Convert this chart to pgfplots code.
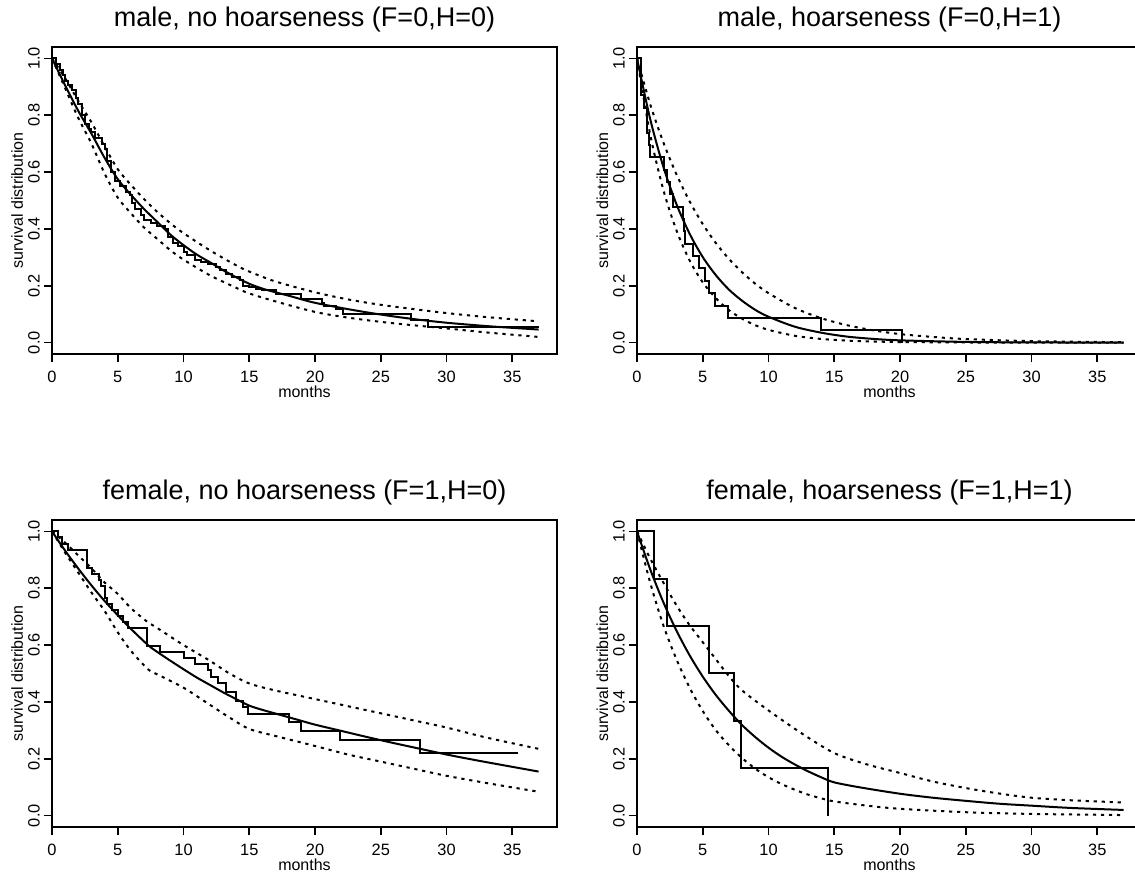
\documentclass[border=0pt]{standalone}
\usepackage{fontspec}
\setmainfont{Liberation Sans}
\usepackage{pgfplots}
\pgfplotsset{compat=1.18}
\pgfplotsset{
  surv/.style={
    scale only axis, width=252.5pt, height=153.5pt,
    xmin=0, xmax=38.4, ymin=-0.04, ymax=1.04,
    xtick={0,5,10,15,20,25,30,35},
    ytick={0,0.2,0.4,0.6,0.8,1},
    axis line style={line width=1pt},
    tick align=outside, xtick pos=bottom, ytick pos=left,
    major tick length=4.2pt,
    tick style={line width=0.8pt, black},
    /pgf/number format/assume math mode=true,
    ticklabel style={font=\fontsize{8.2}{9}\selectfont},
    xticklabel style={anchor=north, inner sep=0pt, yshift=-4pt},
    yticklabel style={rotate=90, anchor=base, inner sep=0pt, yshift=2pt,
      /pgf/number format/.cd, fixed, fixed zerofill, precision=1, /tikz/.cd},
    xlabel={months}, ylabel={survival distribution},
    label style={font=\fontsize{8}{9}\selectfont},
    xlabel style={at={(rel axis cs:0.5,0)}, anchor=base, yshift=-22pt},
    ylabel style={at={(rel axis cs:0,0.5)}, anchor=base, yshift=14.5pt},
    title style={font=\fontsize{13.5}{15}\selectfont, at={(rel axis cs:0.5,1)}, anchor=base, yshift=4pt},
    clip=false,
  },
  km/.style={black, const plot, line width=1pt},
  fit/.style={black, smooth, line width=1pt},
  band/.style={black, smooth, line width=1pt, dash pattern=on 1.6pt off 2.4pt},
}
\begin{document}
\begin{tikzpicture}
\useasboundingbox (0,0) rectangle (567.5pt,436pt);
\clip (0,0) rectangle (567.5pt,436pt);

% male, no hoarseness
\begin{axis}[surv, at={(26pt,259pt)}, anchor=south west,
  title={male, no hoarseness (F=0,H=0)}]
\addplot[band] coordinates {(0,1) (1,0.93) (2,0.85) (3,0.775) (4,0.69) (5,0.61) (6,0.555) (7,0.505) (8,0.46) (9,0.42) (10,0.385) (12,0.325) (14,0.272) (15,0.25) (17,0.215) (20,0.177) (22.5,0.152) (25,0.133) (27.5,0.118) (30,0.104) (33,0.09) (37,0.075)};
\addplot[band] coordinates {(0,1) (1,0.895) (2,0.79) (3,0.70) (4,0.595) (5,0.51) (6,0.455) (7,0.405) (8,0.365) (9,0.325) (10,0.292) (12,0.237) (14,0.193) (15,0.173) (17,0.145) (20,0.108) (22.5,0.088) (25,0.073) (27.5,0.061) (30,0.05) (33,0.036) (37,0.02)};
\addplot[fit] coordinates {(0,1) (1,0.905) (2,0.815) (3,0.735) (4,0.65) (5,0.575) (6,0.52) (7,0.47) (8,0.425) (9,0.38) (10,0.343) (11,0.31) (12,0.283) (13,0.255) (14,0.23) (15,0.207) (16,0.19) (17,0.177) (18,0.165) (19,0.152) (20,0.14) (22,0.122) (24,0.106) (26,0.092) (28,0.08) (30,0.07) (32,0.062) (34,0.055) (36,0.049) (37,0.046)};
\addplot[km] coordinates {(0,1) (0.3,0.98) (0.6,0.96) (0.8,0.94) (1.0,0.92) (1.2,0.905) (1.5,0.89) (1.8,0.86) (2.0,0.84) (2.3,0.80) (2.5,0.77) (2.8,0.75) (3.0,0.74) (3.3,0.72) (3.8,0.70) (4.0,0.68) (4.2,0.64) (4.5,0.60) (4.8,0.57) (5.2,0.55) (5.6,0.53) (5.9,0.52) (6.1,0.49) (6.3,0.47) (6.8,0.45) (7.0,0.43) (7.5,0.42) (8.0,0.41) (8.6,0.40) (8.8,0.37) (9.2,0.35) (9.6,0.34) (10.0,0.32) (10.3,0.31) (10.9,0.29) (11.3,0.285) (11.9,0.275) (12.5,0.265) (12.8,0.255) (13.2,0.24) (13.7,0.23) (14.3,0.22) (14.5,0.20) (15.0,0.195) (15.5,0.19) (16.0,0.185) (17.0,0.17) (18.9,0.155) (20.5,0.14) (20.7,0.13) (21.6,0.12) (22.1,0.10) (27.3,0.08) (28.6,0.055) (37.0,0.055)};
\end{axis}

% male, hoarseness
\begin{axis}[surv, at={(318.5pt,259pt)}, anchor=south west,
  title={male, hoarseness (F=0,H=1)}]
\addplot[band] coordinates {(0,1) (1,0.839) (2,0.705) (3,0.592) (4,0.497) (5,0.417) (6,0.350) (7,0.294) (8,0.247) (9,0.207) (10,0.174) (12,0.122) (14,0.086) (16,0.061) (18,0.043) (20,0.030) (22.5,0.02) (25,0.0126) (30,0.0052) (37,0.0015)};
\addplot[band] coordinates {(0,1) (1,0.733) (2,0.538) (3,0.395) (4,0.289) (5,0.212) (6,0.156) (7,0.114) (8,0.084) (9,0.061) (10,0.045) (12,0.024) (14,0.013) (16,0.007) (18,0.004) (20,0.002) (25,0.0005) (30,0) (37,0)};
\addplot[fit] coordinates {(0,1) (1,0.787) (2,0.619) (3,0.487) (4,0.383) (5,0.301) (6,0.237) (7,0.186) (8,0.147) (9,0.115) (10,0.091) (12,0.056) (14,0.035) (16,0.021) (18,0.013) (20,0.008) (25,0.0025) (30,0.0007) (37,0.0001)};
\addplot[km] coordinates {(0,1) (0.3,0.87) (0.55,0.826) (0.77,0.739) (0.9,0.696) (1.02,0.652) (2.07,0.609) (2.29,0.565) (2.48,0.522) (2.7,0.478) (3.5,0.435) (3.6,0.391) (3.66,0.348) (4.27,0.304) (4.71,0.261) (5.15,0.217) (5.5,0.174) (5.92,0.13) (6.89,0.087) (14.0,0.043) (20.17,0)};
\end{axis}

% female, no hoarseness
\begin{axis}[surv, at={(26pt,22.5pt)}, anchor=south west,
  title={female, no hoarseness (F=1,H=0)}]
\addplot[band] coordinates {(0,1) (1,0.96) (2,0.915) (3,0.87) (4,0.82) (5,0.78) (6,0.73) (7.3,0.68) (8,0.66) (10,0.6) (12,0.545) (13.5,0.5) (15,0.465) (17,0.44) (20,0.41) (22.5,0.385) (25,0.36) (27.5,0.335) (30,0.31) (33,0.275) (37,0.235)};
\addplot[band] coordinates {(0,1) (1,0.925) (2,0.855) (3,0.785) (4,0.72) (5,0.645) (6,0.58) (7.3,0.515) (8,0.497) (10,0.45) (12,0.39) (13.5,0.345) (15,0.305) (17,0.28) (20,0.245) (22.5,0.215) (25,0.19) (27.5,0.165) (30,0.14) (33,0.115) (37,0.084)};
\addplot[fit] coordinates {(0,1) (1,0.932) (2,0.869) (3,0.81) (4,0.755) (5,0.705) (6,0.657) (7.3,0.6) (8,0.576) (9,0.545) (10,0.515) (11,0.486) (12,0.46) (13,0.434) (14,0.41) (15,0.387) (16,0.372) (17,0.359) (18,0.346) (19,0.333) (20,0.32) (22,0.298) (24,0.276) (26,0.255) (28,0.235) (30,0.215) (32,0.197) (34,0.18) (37,0.155)};
\addplot[km] coordinates {(0,1) (0.47,0.979) (0.75,0.957) (1.25,0.936) (2.65,0.872) (3.07,0.851) (3.54,0.830) (3.76,0.809) (4.04,0.766) (4.2,0.745) (4.6,0.723) (5.0,0.702) (5.4,0.681) (5.8,0.66) (7.25,0.596) (8.2,0.574) (10.0,0.553) (10.9,0.532) (11.9,0.511) (12.1,0.489) (12.6,0.468) (13.2,0.436) (14.0,0.404) (14.5,0.383) (14.9,0.357) (18.0,0.330) (18.9,0.298) (21.9,0.266) (27.97,0.222) (35.4,0.222)};
\end{axis}

% female, hoarseness
\begin{axis}[surv, at={(318.5pt,22.5pt)}, anchor=south west,
  title={female, hoarseness (F=1,H=1)}]
\addplot[band] coordinates {(0,1) (1,0.905) (2,0.82) (3,0.74) (4,0.67) (5,0.61) (6,0.55) (7,0.49) (8,0.44) (10,0.37) (12.5,0.29) (15,0.22) (17.5,0.18) (20,0.15) (22.5,0.12) (25,0.097) (27.5,0.078) (30,0.063) (33,0.054) (37,0.046)};
\addplot[band] coordinates {(0,1) (1,0.82) (2,0.67) (3,0.55) (4,0.45) (5,0.368) (6,0.30) (7,0.247) (8,0.202) (9,0.165) (10,0.135) (11,0.111) (12,0.091) (13,0.074) (14,0.061) (15,0.05) (17.5,0.035) (20,0.024) (25,0.012) (30,0.006) (37,0.002)};
\addplot[fit] coordinates {(0,1) (1,0.867) (2,0.751) (3,0.651) (4,0.564) (5,0.489) (6,0.424) (7,0.368) (8,0.318) (9,0.276) (10,0.239) (11,0.207) (12,0.18) (13,0.156) (14,0.135) (15,0.117) (17,0.099) (20,0.077) (22.5,0.063) (25,0.052) (27.5,0.042) (30,0.035) (33,0.027) (37,0.02)};
\addplot[km] coordinates {(0,1) (1.29,0.833) (2.29,0.667) (5.48,0.5) (7.38,0.333) (7.9,0.167) (14.49,0)};
\end{axis}
\end{tikzpicture}
\end{document}
